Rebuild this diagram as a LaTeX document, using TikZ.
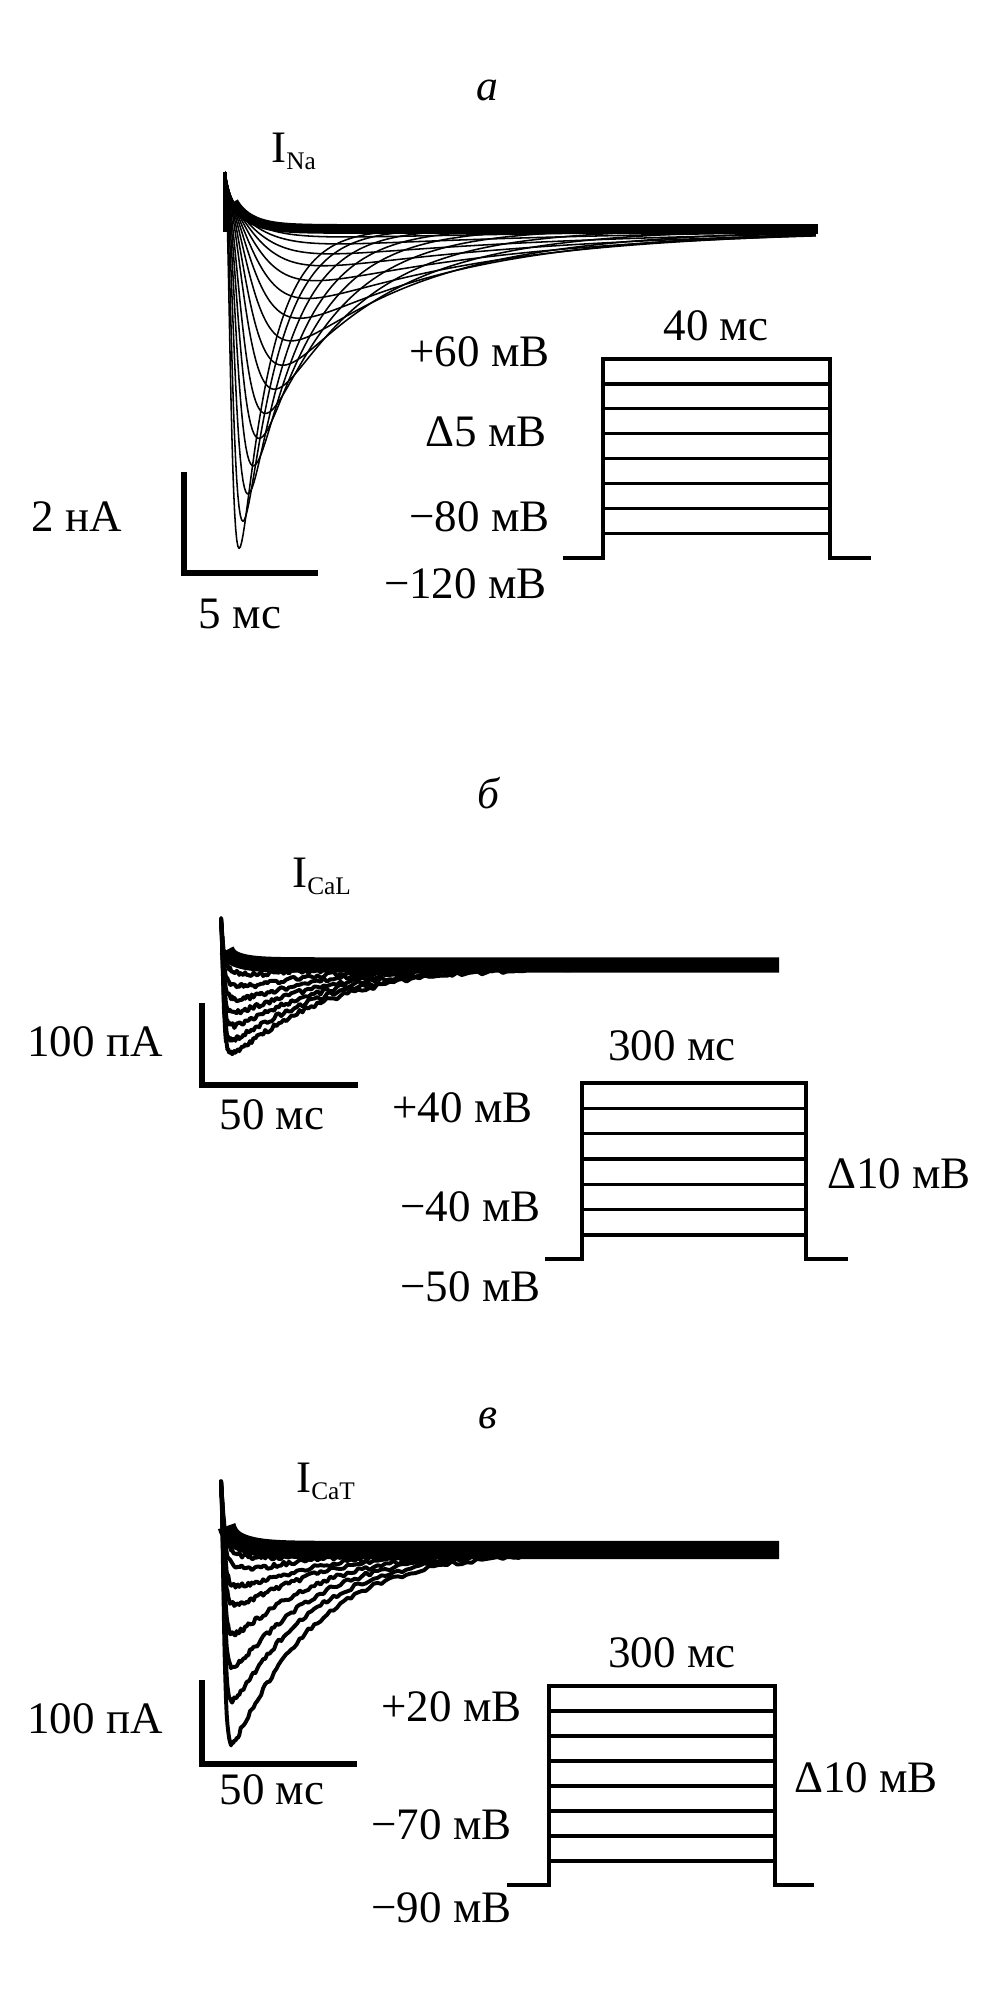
\documentclass[tikz,border=0pt]{standalone}
\usepackage{fontspec}
\setmainfont{Liberation Serif}
\tikzset{
  natrace/.style={line width=1.1pt, line join=round},
  catrace/.style={line width=2.8pt, line join=round},
  band/.style={line width=#1, line cap=butt, line join=round},
  scalebar/.style={line width=3.6pt, line join=miter},
  pulse/.style={line width=2.4pt, line join=miter},
  vlab/.style={font=\fontsize{32}{36}\selectfont, inner sep=0pt},
  panel/.style={font=\itshape\fontsize{31}{35}\selectfont, inner sep=0pt},
  curlab/.style={font=\fontsize{32}{36}\selectfont, inner sep=0pt, anchor=base west},
  declare function={
    gate(\q,\r)=1-exp(-\q/\r);
    ionic(\q,\m,\r,\f,\n)=\m*gate(\q,\r)*gate(\q,\r)*gate(\q,\r)*exp(-\q/\f)/\n;
  }
}
\newcommand{\cursub}[1]{\raisebox{-5pt}{\fontsize{18}{20}\selectfont #1}}

\begin{document}
\begin{tikzpicture}[x=0.025cm, y=-0.025cm]
\useasboundingbox (0,0) rectangle (1004,2001);
\pgfmathsetseed{11}

% panel a: sodium current
\node[panel] (pa) at (487,90) {а};
\node[curlab] (ina) at (271,162) {I\cursub{Na}};
\draw[band=7pt] plot[domain=0.12:1, samples=80, variable=\u]
  ({225+593*\u*\u}, {229-15*exp(-593*\u*\u/3)-42*exp(-593*\u*\u/18)});
\foreach \Amp/\Rise/\Fall in {339/4.5/30, 308/6/34, 277/8/40, 247/10/48, 217/12/58,
  189/14/72, 163/17/90, 138/19/115, 113/21/145, 90/23/175, 70/25/205, 52/27/235,
  37/29/260, 25/31/280, 15/33/300, 8/35/320}{
  \pgfmathsetmacro\Sx{1/(1+3*\Fall/\Rise)}
  \pgfmathsetmacro\Norm{(1-\Sx)^3*exp(\Rise/\Fall*ln(\Sx))}
  \draw[natrace] plot[domain=0:1, samples=150, variable=\u]
    ({225+593*\u*\u}, {229-15*exp(-593*\u*\u/3)-42*exp(-593*\u*\u/18)+ionic(593*\u*\u,\Amp,\Rise,\Fall,\Norm)});
}
\draw[line width=2.2pt] (225,172) -- (225,232);
\draw[scalebar] (184,472) -- (184,573) -- (318,573);
\node[vlab] (na amp) at (77,517) {2 нА};
\node[vlab] (na time) at (240,614) {5 мс};
% step protocol a
\draw[pulse] (563,558) -- (603,558) -- (603,359) -- (830,359) -- (830,558) -- (871,558);
\foreach \k in {1,...,7}
  \draw[pulse] (603,{359+24.9*\k}) -- (830,{359+24.9*\k});
\node[vlab] (na dur) at (716,326) {40 мс};
\node[vlab, anchor=east] (na top) at (550,352) {+60 мВ};
\node[vlab, anchor=east] (na inc) at (547,432) {Δ5 мВ};
\node[vlab, anchor=east] (na low) at (550,517) {−80 мВ};
\node[vlab, anchor=east] (na hold) at (547,584) {−120 мВ};

% panel b: L-type calcium current
\node[panel] (pb) at (488,793) {б};
\node[curlab] (ical) at (292,887) {I\cursub{CaL}};
\draw[band=11pt] plot[domain=0.1:1, samples=80, variable=\u]
  ({221+559*\u*\u}, {965-30*exp(-559*\u*\u/3)-15*exp(-559*\u*\u/15)});
\foreach \Amp in {14,28,42,56,70,84,98}
  \draw[catrace] plot[domain=0:1, samples=150, variable=\u]
    ({221+559*\u*\u}, {965-30*exp(-559*\u*\u/3)-15*exp(-559*\u*\u/15)+ionic(559*\u*\u,\Amp,1.5,95,0.906)+2.4*rand});
\draw[scalebar] (202,1003) -- (202,1085) -- (358,1085);
\node[vlab] (cal amp) at (95,1042) {100 пА};
\node[vlab] (cal time) at (272,1115) {50 мс};
% step protocol b
\draw[pulse] (545,1259) -- (582,1259) -- (582,1083) -- (806,1083) -- (806,1259) -- (848,1259);
\foreach \k in {1,...,6}
  \draw[pulse] (582,{1083+25.3*\k}) -- (806,{1083+25.3*\k});
\node[vlab] (cal dur) at (672,1046) {300 мс};
\node[vlab, anchor=east] (cal top) at (533,1108) {+40 мВ};
\node[vlab, anchor=east] (cal low) at (541,1207) {−40 мВ};
\node[vlab, anchor=east] (cal hold) at (541,1287) {−50 мВ};
\node[vlab] (cal inc) at (899,1174) {Δ10 мВ};

% panel c: T-type calcium current
\node[panel] (pc) at (488,1418) {в};
\node[curlab] (icat) at (296,1492) {I\cursub{CaT}};
\draw[band=13pt] plot[domain=0.1:1, samples=80, variable=\u]
  ({221+559*\u*\u}, {1550-45*exp(-559*\u*\u/3)-23*exp(-559*\u*\u/18)});
\foreach \Amp in {14,28,48,68,98,132,165,208}
  \draw[catrace] plot[domain=0:1, samples=150, variable=\u]
    ({221+559*\u*\u}, {1550-45*exp(-559*\u*\u/3)-23*exp(-559*\u*\u/18)+ionic(559*\u*\u,\Amp,2,80,0.865)+2.4*rand});
\draw[scalebar] (202,1680) -- (202,1764) -- (357,1764);
\node[vlab] (cat amp) at (95,1719) {100 пА};
\node[vlab] (cat time) at (272,1790) {50 мс};
% step protocol c
\draw[pulse] (507,1885) -- (549,1885) -- (549,1686) -- (775,1686) -- (775,1885) -- (814,1885);
\foreach \k in {1,...,7}
  \draw[pulse] (549,{1686+25*\k}) -- (775,{1686+25*\k});
\node[vlab] (cat dur) at (672,1653) {300 мс};
\node[vlab, anchor=east] (cat top) at (522,1707) {+20 мВ};
\node[vlab, anchor=east] (cat low) at (512,1825) {−70 мВ};
\node[vlab, anchor=east] (cat hold) at (512,1908) {−90 мВ};
\node[vlab] (cat inc) at (866,1778) {Δ10 мВ};
\end{tikzpicture}
\end{document}
